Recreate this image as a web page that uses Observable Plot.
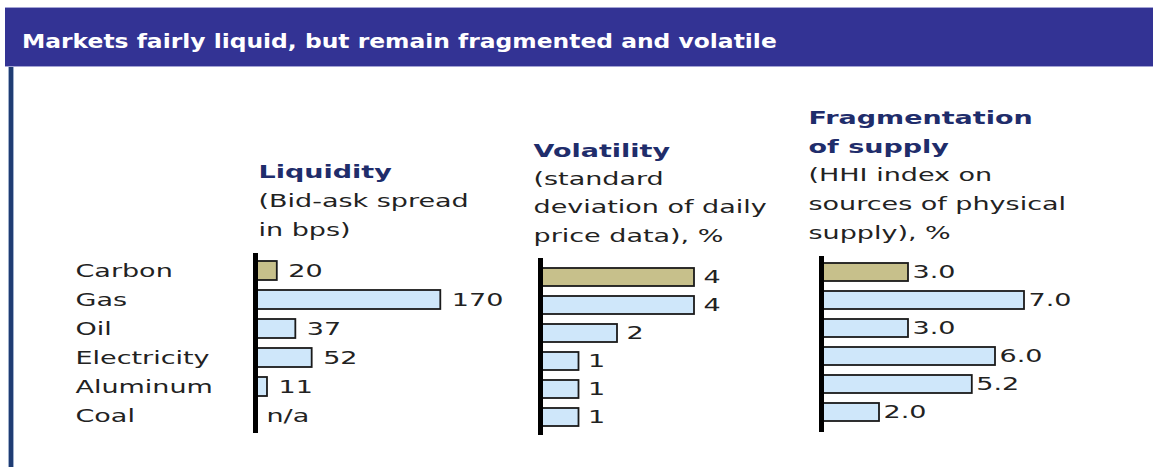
<!DOCTYPE html>
<html>
<head>
<meta charset="utf-8">
<script src="https://cdn.jsdelivr.net/npm/d3@7"></script>
<script src="https://cdn.jsdelivr.net/npm/@observablehq/plot@0.6"></script>
<style>
  body { margin: 0; background: #fff; }
  #root { position: relative; width: 1153px; height: 467px; overflow: hidden; background: #fff; font-family: "DejaVu Sans", sans-serif; }
  #root svg { position: absolute; top: 0; }
  #bar { position: absolute; left: 5px; top: 7px; width: 1148px; height: 58px; background: #333394; border-top: 1px solid #a4a4d4; border-bottom: 1px solid #a4a4d4; }
  #title { position: absolute; left: 22px; top: 29px; color: #fff; font: bold 20px "DejaVu Sans", sans-serif; white-space: nowrap; transform: scaleX(1.17); transform-origin: left center; }
  #vline { position: absolute; left: 8px; top: 67px; width: 4px; height: 400px; background: #1f3c73; border-left: 1px solid #9fb0cc; border-right: 1px solid #9fb0cc; box-sizing: content-box; }
</style>
</head>
<body>
<div id="root"></div>
<script>
// ---- data ----
const categories = ["Carbon", "Gas", "Oil", "Electricity", "Aluminum", "Coal"];
const liquidity = [20, 170, 37, 52, 11, null];
const liquidityLabels = ["20", "170", "37", "52", "11", "n/a"];
const volatility = [4, 4, 2, 1, 1, 1];
const volatilityLabels = ["4", "4", "2", "1", "1", "1"];
const fragmentation = [3.0, 7.0, 3.0, 6.0, 5.2, 2.0];
const fragmentationLabels = ["3.0", "7.0", "3.0", "6.0", "5.2", "2.0"];
const titleText = "Markets fairly liquid, but remain fragmented and volatile";
const headings = ["Liquidity", "Volatility", "Fragmentation\nof supply"];
const subtitles = ["(Bid-ask spread\nin bps)", "(standard\ndeviation of daily\nprice data), %", "(HHI index on\nsources of physical\nsupply), %"];

const navy = "#1f2d6b";
const textColor = "#222";
const blue = "#cfe7fa";
const olive = "#c7c08b";
const FS = 18;
const STRETCH = 1.5;

const root = document.getElementById("root");

function stretchText(svg) {
  svg.querySelectorAll("text").forEach(t => {
    const tr = t.getAttribute("transform") || "";
    let base = tr;
    if (!tr && (t.hasAttribute("x") || t.hasAttribute("y"))) {
      base = `translate(${t.getAttribute("x") || 0},${t.getAttribute("y") || 0})`;
      t.removeAttribute("x"); t.removeAttribute("y");
    }
    t.setAttribute("transform", base + ` scale(${STRETCH},1)`);
  });
}

function panel(cfg) {
  const data = categories.map((c, i) => ({cat: c, value: cfg.values[i], label: cfg.labels[i]}));
  const marks = [
    Plot.barX(data.filter(d => d.value != null), {
      x: "value", y: "cat",
      fill: d => d.cat === "Carbon" ? olive : blue,
      stroke: "#1a1a1a", strokeWidth: 1.8
    }),
    Plot.ruleX([0], {stroke: "#000", strokeWidth: 5}),
    Plot.text(data, {
      x: d => d.value ?? 0, y: "cat", text: "label",
      textAnchor: "start", dx: cfg.vdx, fill: textColor, fontSize: FS
    }),
    Plot.text([cfg.heading], {
      frameAnchor: "top-left", dx: cfg.hdx, dy: cfg.hdy, textAnchor: "start",
      lineAnchor: "middle", lineHeight: 1.6, fontWeight: "bold", fill: navy, fontSize: FS
    }),
    Plot.text([cfg.sub], {
      frameAnchor: "top-left", dx: cfg.hdx, dy: cfg.sdy, textAnchor: "start",
      lineAnchor: "middle", lineHeight: 1.6, fill: textColor, fontSize: FS
    })
  ];
  if (cfg.rows) {
    marks.push(Plot.text(categories, {
      y: d => d, frameAnchor: "left", dx: cfg.rowDx, textAnchor: "start",
      fill: textColor, fontSize: FS
    }));
  }
  const svg = Plot.plot({
    width: cfg.width, height: 467,
    marginLeft: cfg.x0, marginRight: 0,
    marginTop: cfg.axisTop, marginBottom: 467 - cfg.axisBottom,
    style: {background: "transparent", overflow: "visible", fontFamily: "DejaVu Sans, sans-serif"},
    x: {domain: [0, cfg.xMax], range: [cfg.x0, cfg.x0 + cfg.xPx], axis: null},
    y: {type: "band", domain: categories, range: [cfg.yTop, cfg.yBottom], paddingInner: 0.34, paddingOuter: 0.17, axis: null},
    marks
  });
  svg.style.left = cfg.left + "px";
  stretchText(svg);
  root.appendChild(svg);
}

// Liquidity
panel({values: liquidity, labels: liquidityLabels, heading: headings[0], sub: subtitles[0],
  left: 0, width: 505, x0: 255, xMax: 170, xPx: 185.3,
  yTop: 254.8, yBottom: 431.2, axisTop: 253, axisBottom: 433,
  hdx: 3, hdy: -85, sdy: -41.5, vdx: 11, rows: true, rowDx: -180});
// Volatility
panel({values: volatility, labels: volatilityLabels, heading: headings[1], sub: subtitles[1],
  left: 505, width: 285, x0: 35, xMax: 4, xPx: 154,
  yTop: 260.65, yBottom: 432.85, axisTop: 258, axisBottom: 435,
  hdx: -7, hdy: -111, sdy: -54.3, vdx: 9});
// Fragmentation
panel({values: fragmentation, labels: fragmentationLabels, heading: headings[2], sub: subtitles[2],
  left: 790, width: 363, x0: 31, xMax: 7, xPx: 203,
  yTop: 255.65, yBottom: 427.85, axisTop: 256, axisBottom: 432,
  hdx: -13, hdy: -127.5, sdy: -56, vdx: 4});

const bar = document.createElement("div"); bar.id = "bar"; root.appendChild(bar);
const title = document.createElement("div"); title.id = "title"; title.textContent = titleText; root.appendChild(title);
const vline = document.createElement("div"); vline.id = "vline"; root.appendChild(vline);
</script>
</body>
</html>
